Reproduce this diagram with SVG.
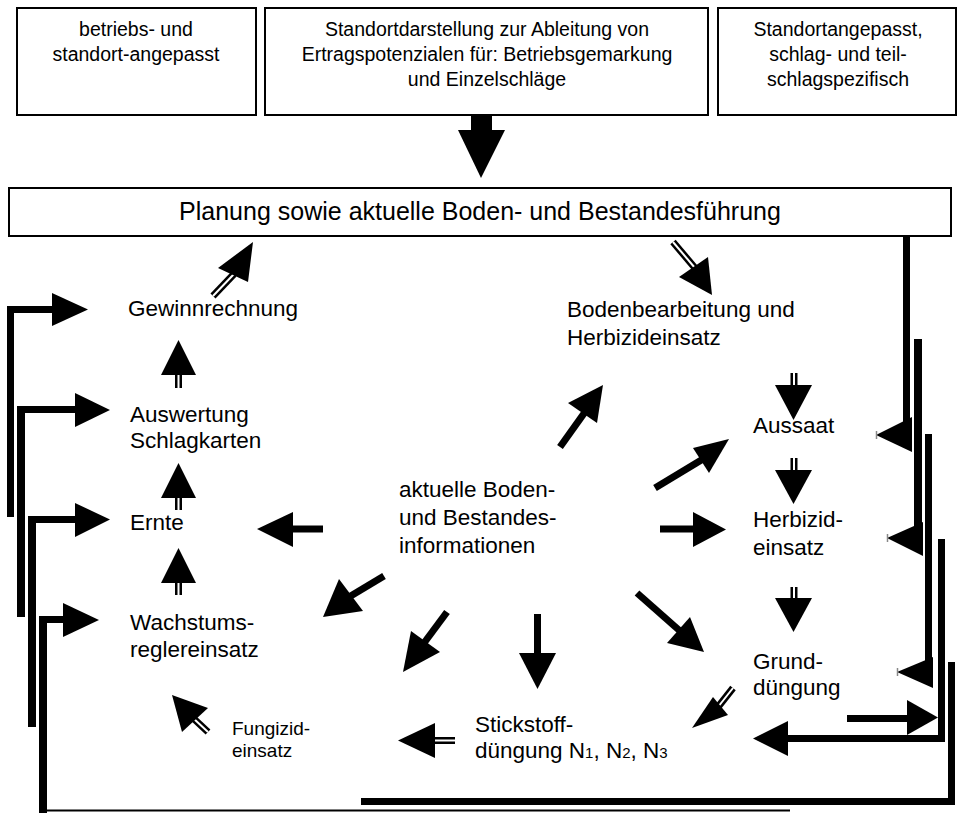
<svg xmlns="http://www.w3.org/2000/svg" width="961" height="813" viewBox="0 0 961 813">
<style>
.box{fill:#fff;stroke:#000;stroke-width:2}
.t{font-family:"Liberation Sans",Arial,sans-serif;fill:#000}
.top{font-size:19.5px;text-anchor:middle}
.lbl{font-size:22.5px}
.sm{font-size:19px}
.bar{fill:#000}
.sh{stroke:#000;stroke-width:7;fill:none}
.dbl{stroke:#000;stroke-width:7;fill:none}
.dblw{stroke:#fff;stroke-width:2;fill:none}
.tick{stroke:#888;stroke-width:1.5}
</style>
<rect width="961" height="813" fill="#fff"/>
<g id="box-betrieb">
<rect class="box" x="17" y="8" width="239" height="107"/>
<text class="t top" x="136" y="36">betriebs- und</text>
<text class="t top" x="136" y="61">standort-angepasst</text>
</g>
<g id="box-standort">
<rect class="box" x="265" y="8" width="443" height="107"/>
<text class="t top" x="487" y="36">Standortdarstellung zur Ableitung von</text>
<text class="t top" x="487" y="61">Ertragspotenzialen für: Betriebsgemarkung</text>
<text class="t top" x="487" y="86">und Einzelschläge</text>
</g>
<g id="box-schlag">
<rect class="box" x="718" y="8" width="238" height="107"/>
<text class="t top" x="838" y="36">Standortangepasst,</text>
<text class="t top" x="838" y="61">schlag- und teil-</text>
<text class="t top" x="838" y="86">schlagspezifisch</text>
</g>
<g id="planung">
<rect class="box" x="9" y="188" width="942" height="48"/>
<text class="t" x="480" y="220" font-size="25" text-anchor="middle">Planung sowie aktuelle Boden- und Bestandesführung</text>
</g>
<g id="gewinn"><text class="t lbl" x="128" y="316">Gewinnrechnung</text></g>
<g id="auswertung"><text class="t lbl" x="130" y="422">Auswertung</text><text class="t lbl" x="130" y="448">Schlagkarten</text></g>
<g id="ernte"><text class="t lbl" x="130" y="530">Ernte</text></g>
<g id="wachstum"><text class="t lbl" x="130" y="630">Wachstums-</text><text class="t lbl" x="130" y="657">reglereinsatz</text></g>
<g id="fungizid"><text class="t sm" x="232" y="735">Fungizid-</text><text class="t sm" x="232" y="757">einsatz</text></g>
<g id="stickstoff"><text class="t lbl" x="475" y="732">Stickstoff-</text><text class="t lbl" x="475" y="758">düngung N<tspan font-size="15">1</tspan>, N<tspan font-size="15">2</tspan>, N<tspan font-size="15">3</tspan></text></g>
<g id="aktuell"><text class="t lbl" x="399" y="497">aktuelle Boden-</text><text class="t lbl" x="399" y="525">und Bestandes-</text><text class="t lbl" x="399" y="553">informationen</text></g>
<g id="boden"><text class="t lbl" x="567" y="317">Bodenbearbeitung und</text><text class="t lbl" x="567" y="345">Herbizideinsatz</text></g>
<g id="aussaat"><text class="t lbl" x="753" y="433">Aussaat</text></g>
<g id="herbizid"><text class="t lbl" x="753" y="527">Herbizid-</text><text class="t lbl" x="753" y="555">einsatz</text></g>
<g id="grund"><text class="t lbl" x="753" y="669">Grund-</text><text class="t lbl" x="753" y="695">düngung</text></g>
<g id="connectors">
<rect class="bar" x="471" y="114" width="21" height="17"/>
<polygon points="458,130 505,130 481,178"/>
<line class="dbl" x1="213" y1="296" x2="234" y2="274"/>
<line class="dblw" x1="213" y1="296" x2="234" y2="274"/>
<polygon points="218,268 248,282 253,242"/>
<line class="dbl" x1="178.5" y1="374" x2="178.5" y2="388"/><line class="dblw" x1="178.5" y1="374" x2="178.5" y2="388"/>
<polygon points="161,375 196,375 178.5,340"/>
<line class="dbl" x1="178.5" y1="497" x2="178.5" y2="510"/><line class="dblw" x1="178.5" y1="497" x2="178.5" y2="510"/>
<polygon points="161,498 196,498 178.5,463"/>
<line class="dbl" x1="178.5" y1="582" x2="178.5" y2="595"/><line class="dblw" x1="178.5" y1="582" x2="178.5" y2="595"/>
<polygon points="161,583 196,583 178.5,548"/>
<line class="dbl" x1="673" y1="242" x2="695" y2="268"/>
<line class="dblw" x1="673" y1="242" x2="695" y2="268"/>
<polygon points="679,277 708,257 712,295"/>
<line class="dbl" x1="794" y1="373" x2="794" y2="386"/><line class="dblw" x1="794" y1="373" x2="794" y2="386"/>
<polygon points="775,385 812,385 793.5,420"/>
<line class="dbl" x1="794" y1="458" x2="794" y2="471"/><line class="dblw" x1="794" y1="458" x2="794" y2="471"/>
<polygon points="775,470 812,470 793.5,504"/>
<line class="dbl" x1="794" y1="587" x2="794" y2="599"/><line class="dblw" x1="794" y1="587" x2="794" y2="599"/>
<polygon points="775,598 812,598 793.5,632"/>
<line class="sh" x1="560" y1="447" x2="585" y2="412"/>
<polygon points="568,403 597,423 603,385"/>
<line class="sh" x1="655" y1="488" x2="703" y2="459"/>
<polygon points="693,448 709,473 729,439"/>
<line class="sh" x1="660" y1="529" x2="695" y2="529"/>
<polygon points="693,512 693,547 726,529.5"/>
<line class="sh" x1="323" y1="529" x2="291" y2="529"/>
<polygon points="293,512 293,547 257,529"/>
<line class="sh" x1="384" y1="576" x2="349" y2="597"/>
<polygon points="363,611 339,579 323,617"/>
<line class="sh" x1="447" y1="612" x2="424" y2="643"/>
<polygon points="440,652 411,631 403,672"/>
<line class="sh" x1="537.5" y1="614" x2="537.5" y2="654"/>
<polygon points="519,653 556,653 537.5,689"/>
<line class="sh" x1="637" y1="593" x2="680" y2="631"/>
<polygon points="667,643 690,617 704,652"/>
<line class="dbl" x1="733" y1="688" x2="718" y2="707"/>
<line class="dblw" x1="733" y1="688" x2="718" y2="707"/>
<polygon points="713,697 728,715 692,728"/>
<line class="dbl" x1="434" y1="740.5" x2="455" y2="740.5"/>
<line class="dblw" x1="434" y1="740.5" x2="455" y2="740.5"/>
<polygon points="435,723 435,758 398,740.5"/>
<line class="dbl" x1="208" y1="732" x2="193" y2="718"/>
<line class="dblw" x1="208" y1="732" x2="193" y2="718"/>
<polygon points="182,732 208,708 172,695"/>
<rect class="bar" x="903" y="236" width="7" height="205"/>
<polygon points="912,417 912,452 876,435"/>
<line class="tick" x1="876.5" y1="431" x2="876.5" y2="439"/>
<rect class="bar" x="914" y="339" width="8" height="208"/>
<polygon points="923,522 923,556 887,538"/>
<line class="tick" x1="887.5" y1="534" x2="887.5" y2="542"/>
<rect class="bar" x="925" y="434" width="7" height="250"/>
<polygon points="933,657 933,688 897,672"/>
<line class="tick" x1="897.5" y1="668" x2="897.5" y2="676"/>
<rect class="bar" x="938" y="539" width="7" height="203"/>
<rect class="bar" x="786" y="735" width="159" height="7"/>
<polygon points="788,721 788,756 753,738.5"/>
<rect class="bar" x="847" y="715" width="62" height="7"/>
<polygon points="907,700 907,735 938,717.5"/>
<rect class="bar" x="948" y="662" width="7" height="143"/>
<rect class="bar" x="361" y="798" width="594" height="7"/>
<line x1="40" y1="810.5" x2="790" y2="810.5" stroke="#000" stroke-width="2"/>
<rect class="bar" x="7" y="306" width="7" height="211"/>
<rect class="bar" x="7" y="306" width="47" height="7"/>
<polygon points="52,293 52,326 88,309.5"/>
<rect class="bar" x="17" y="406" width="8" height="211"/>
<rect class="bar" x="17" y="406" width="60" height="7"/>
<polygon points="75,393 75,427 110,410"/>
<rect class="bar" x="28" y="516" width="8" height="211"/>
<rect class="bar" x="28" y="516" width="49" height="7"/>
<polygon points="75,503 75,537 110,519.5"/>
<rect class="bar" x="39" y="616" width="8" height="197"/>
<rect class="bar" x="39" y="616" width="26" height="7"/>
<polygon points="63,603 63,637 99,620"/>
</g>
</svg>
